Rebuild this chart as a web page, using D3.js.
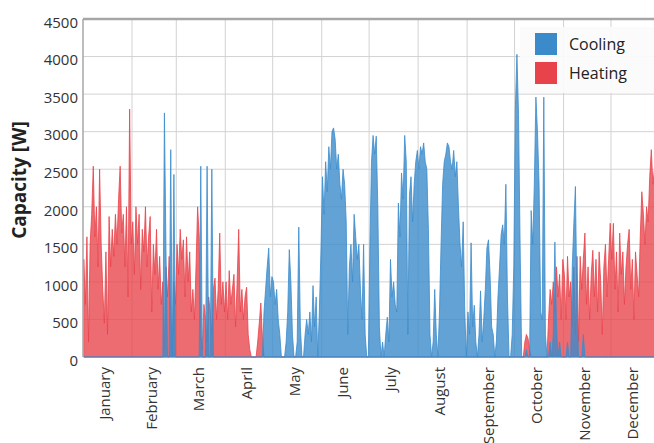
<!DOCTYPE html>
<html>
<head>
<meta charset="utf-8">
<script src="https://cdn.jsdelivr.net/npm/d3@7"></script>
<style>
  body { margin: 0; background: #fff; }
  text { font-family: "Open Sans", "DejaVu Sans", sans-serif; }
</style>
</head>
<body>
<div id="chart"></div>
<script>
// month labels and lengths
const months = ["January", "February", "March", "April", "May", "June", "July",
  "August", "September", "October", "November", "December"];
const monthDays = [31, 28, 31, 30, 31, 30, 31, 31, 30, 31, 30, 31];
const yTicks = [0, 500, 1000, 1500, 2000, 2500, 3000, 3500, 4000, 4500];
const seriesNames = ["Cooling", "Heating"];

// daily peak heating capacity [W], one row per month
const heating = [
  1300, 700, 1600, 200, 1500, 1900, 2540, 1600, 2000, 1200, 2500, 1500, 900, 450, 1400, 300, 1870, 1200, 1700, 1340, 1900, 1500, 2100, 2540, 1650, 1900, 1200, 2000, 800, 3300, 1500,
  1800, 1100, 2000, 1500, 1900, 900, 1700, 1400, 2000, 1200, 1600, 1870, 600, 1500, 1100, 1700, 900, 1340, 700, 1000, 100, 1200, 800, 1340, 600, 50, 1000, 700,
  1500, 1100, 1700, 1300, 1560, 800, 1600, 1000, 1400, 600, 900, 500, 1200, 2000, 1600, 300, 100, 700, 500, 200, 800, 600, 300, 900, 1050, 500, 900, 1650, 700, 1000, 600,
  1000, 500, 1150, 700, 900, 1100, 400, 1000, 1700, 600, 900, 500, 800, 930, 300, 100, 0, 0, 0, 0, 200, 450, 720, 250, 0, 0, 0, 0, 0, 0,
  0, 0, 0, 0, 0, 0, 0, 0, 0, 0, 0, 0, 0, 0, 0, 0, 0, 0, 0, 0, 0, 0, 0, 0, 0, 0, 0, 0, 0, 0, 0,
  0, 0, 0, 0, 0, 0, 0, 0, 0, 0, 0, 0, 0, 0, 0, 0, 0, 0, 0, 0, 0, 0, 0, 0, 0, 0, 0, 0, 0, 0,
  0, 0, 0, 0, 0, 0, 0, 0, 0, 0, 0, 0, 0, 0, 0, 0, 0, 0, 0, 0, 0, 0, 0, 0, 0, 0, 0, 0, 0, 0, 0,
  0, 0, 0, 0, 0, 0, 0, 0, 0, 0, 0, 0, 0, 0, 0, 0, 0, 0, 0, 0, 0, 0, 0, 0, 0, 0, 0, 0, 0, 0, 0,
  0, 0, 0, 0, 0, 0, 0, 0, 0, 0, 0, 0, 0, 0, 0, 0, 0, 0, 0, 0, 0, 0, 0, 0, 0, 0, 0, 0, 0, 0,
  0, 0, 0, 0, 0, 0, 200, 300, 250, 100, 0, 0, 0, 0, 0, 0, 0, 0, 0, 0, 0, 500, 900, 700, 1000, 600, 1200, 800, 1100, 500, 1300,
  1100, 500, 1340, 800, 1000, 400, 1200, 300, 1340, 200, 1340, 900, 1300, 1650, 700, 1200, 500, 1100, 1420, 800, 1300, 600, 1400, 1000, 300, 1200, 1500, 800, 1300, 1780,
  1300, 1780, 900, 1400, 600, 1650, 1100, 1400, 700, 1200, 1500, 1700, 900, 1300, 500, 1400, 1100, 800, 1600, 2200, 1900, 1500, 2000, 1800, 2400, 2760, 2300, 2500, 2200, 2000, 2300
];

// daily peak cooling capacity [W]
const cooling = [
  0, 0, 0, 0, 0, 0, 0, 0, 0, 0, 0, 0, 0, 0, 0, 0, 0, 0, 0, 0, 0, 0, 0, 0, 0, 0, 0, 0, 0, 0, 0,
  0, 0, 0, 0, 0, 0, 0, 0, 0, 0, 0, 0, 0, 0, 0, 0, 0, 0, 0, 0, 3250, 1400, 0, 0, 2760, 0, 2430, 0,
  0, 0, 0, 0, 0, 0, 0, 0, 0, 0, 0, 0, 0, 0, 0, 2540, 0, 0, 0, 2540, 0, 0, 2500, 0, 0, 0, 0, 0, 0, 0, 0,
  0, 0, 0, 0, 0, 0, 0, 0, 0, 0, 0, 0, 0, 0, 0, 0, 0, 0, 0, 0, 0, 0, 0, 0, 600, 900, 1200, 1450, 800, 1070,
  1000, 700, 900, 500, 300, 0, 0, 0, 200, 600, 1430, 1000, 300, 0, 0, 200, 1730, 400, 0, 0, 300, 500, 300, 600, 200, 950, 400, 800, 0, 600, 1400,
  2400, 1900, 2600, 2200, 2800, 2500, 3000, 3050, 2900, 2500, 2700, 2300, 2100, 2500, 2300, 1800, 300, 1200, 1500, 1000, 1900, 1600, 1300, 1500, 900, 500, 1500, 300, 0, 0,
  1500, 2600, 2950, 2700, 2940, 2000, 400, 0, 200, 0, 300, 530, 200, 1300, 800, 1000, 700, 600, 2050, 1600, 2450, 2100, 2950, 2600, 300, 2150, 2400, 1800, 2300, 2600, 2750,
  2500, 2800, 2700, 2850, 2600, 2500, 1700, 300, 0, 200, 900, 300, 0, 600, 1500, 2300, 2600, 2700, 2850, 2800, 2600, 2500, 2750, 2400, 2600, 2000, 1500, 1200, 1800, 600, 0,
  600, 300, 1520, 400, 690, 200, 0, 300, 880, 200, 500, 900, 1450, 1560, 1100, 400, 300, 0, 200, 800, 1200, 1630, 1760, 1500, 2300, 800, 0, 0, 300, 1200,
  3300, 4030, 3230, 1500, 0, 0, 0, 100, 0, 0, 1950, 1500, 2300, 3460, 3000, 2300, 600, 500, 3460, 300, 0, 0, 200, 0, 300, 1530, 400, 0, 200, 0, 0,
  0, 0, 200, 0, 0, 1200, 1780, 2270, 600, 0, 0, 0, 300, 0, 0, 0, 0, 0, 0, 0, 0, 0, 0, 0, 0, 0, 0, 0, 0, 0,
  0, 0, 0, 0, 0, 0, 0, 0, 0, 0, 0, 0, 0, 0, 0, 0, 0, 0, 0, 0, 0, 0, 0, 0, 0, 0, 0, 0, 0, 0, 0
];

const colors = { Cooling: "#3b8bcb", Heating: "#e8434a" };

const width = 654, height = 443;
const plotLeft = 83, plotRight = 660; // the frame runs past the right edge of the picture

const svg = d3.select("#chart").append("svg")
  .attr("width", width)
  .attr("height", height);

const x = d3.scaleLinear()
  .domain([0, 365])
  .range([plotLeft, plotRight]);

const y = d3.scaleLinear()
  .domain([0, 4500])
  .range([357, 19]);

// month boundaries in days
const monthStart = d3.cumsum([0].concat(monthDays.slice(0, 11)));
const monthMid = monthStart.map((s, i) => s + monthDays[i] / 2);

// grid
const grid = svg.append("g");
grid.selectAll(".hgrid")
  .data(yTicks.slice(1))
  .join("line")
  .attr("x1", x(0)).attr("x2", x(365))
  .attr("y1", d => y(d)).attr("y2", d => y(d))
  .attr("stroke", "#d2d2d2").attr("stroke-width", 1);
grid.selectAll(".vgrid")
  .data(monthStart.slice(1))
  .join("line")
  .attr("x1", d => x(d)).attr("x2", d => x(d))
  .attr("y1", y(4500)).attr("y2", y(0))
  .attr("stroke", "#d2d2d2").attr("stroke-width", 1);

svg.append("clipPath").attr("id", "plot-clip")
  .append("rect")
  .attr("x", x(0)).attr("y", y(4500))
  .attr("width", x(365) - x(0)).attr("height", y(0) - y(4500) + 1);

const area = d3.area()
  .x((d, i) => x(i + 0.5))
  .y0(y(0))
  .y1(d => y(d));

const plot = svg.append("g").attr("clip-path", "url(#plot-clip)");

plot.append("path")
  .datum(heating)
  .attr("d", area)
  .attr("fill", colors.Heating)
  .attr("fill-opacity", 0.78)
  .attr("stroke", colors.Heating)
  .attr("stroke-width", 0.8);

plot.append("path")
  .datum(cooling)
  .attr("d", area)
  .attr("fill", colors.Cooling)
  .attr("fill-opacity", 0.8)
  .attr("stroke", colors.Cooling)
  .attr("stroke-width", 0.8);

// frame
svg.append("line")
  .attr("x1", x(0)).attr("x2", width)
  .attr("y1", y(4500)).attr("y2", y(4500))
  .attr("stroke", "#a6a6a6").attr("stroke-width", 2.5);
svg.append("line")
  .attr("x1", x(0)).attr("x2", x(0))
  .attr("y1", y(4500)).attr("y2", y(0))
  .attr("stroke", "#a6a6a6").attr("stroke-width", 1.5);

// y axis
const yAxis = svg.append("g")
  .attr("transform", `translate(${x(0)},0)`)
  .call(d3.axisLeft(y).tickValues(yTicks).tickSize(0).tickPadding(5).tickFormat(d3.format("d")));
yAxis.select(".domain").remove();
yAxis.selectAll("text")
  .attr("font-family", "'Open Sans', sans-serif")
  .attr("font-size", 15)
  .attr("fill", "#333")
  .attr("dy", "0.55em");

svg.append("text")
  .attr("transform", `translate(26,180) rotate(-90)`)
  .attr("text-anchor", "middle")
  .attr("font-size", 19)
  .attr("font-weight", "bold")
  .attr("fill", "#222")
  .text("Capacity [W]");

// x axis month labels
const xAxis = svg.append("g")
  .attr("transform", `translate(0,${y(0)})`)
  .call(d3.axisBottom(x).tickValues(monthMid).tickSize(0).tickFormat((d, i) => months[i]));
xAxis.select(".domain").remove();
xAxis.selectAll("text")
  .attr("font-family", "'Open Sans', sans-serif")
  .attr("font-size", 15)
  .attr("fill", "#333")
  .attr("text-anchor", "end")
  .attr("transform", "rotate(-90)")
  .attr("x", -10)
  .attr("y", -3)
  .attr("dy", "0.35em");

// legend
const legend = svg.append("g").attr("transform", "translate(520,27)");
legend.append("rect")
  .attr("width", 140).attr("height", 66)
  .attr("fill", "#fbfbfb").attr("fill-opacity", 0.92);
seriesNames.forEach((name, i) => {
  legend.append("rect")
    .attr("x", 15).attr("y", 6 + i * 29)
    .attr("width", 22).attr("height", 22)
    .attr("fill", colors[name]);
  legend.append("text")
    .attr("x", 49).attr("y", 17 + i * 29)
    .attr("dy", "0.35em")
    .attr("font-size", 16)
    .attr("fill", "#222")
    .text(name);
});
</script>
</body>
</html>
